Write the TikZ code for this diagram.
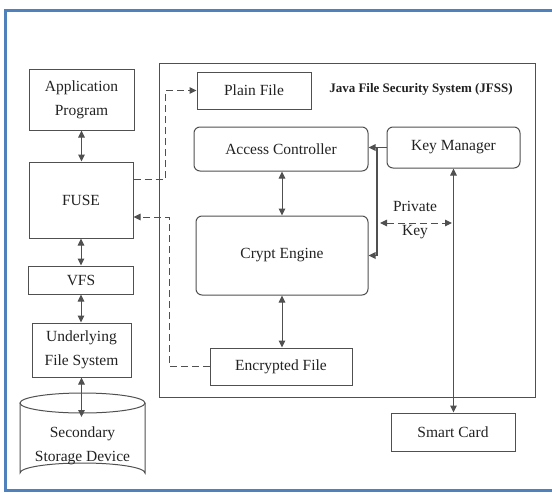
\documentclass[tikz,border=0pt]{standalone}
\usepackage{fontspec}
\setmainfont{Liberation Serif}
\usetikzlibrary{arrows.meta}
\definecolor{frameblue}{HTML}{4F81BD}
\definecolor{ln}{HTML}{505050}
\definecolor{tx}{HTML}{222222}
\begin{document}
\begin{tikzpicture}[x=1pt,y=-1pt,
  font=\fontsize{15.5}{24}\selectfont, text=tx,
  box/.style={draw=ln,line width=1pt,rectangle,inner sep=0pt,align=center},
  rbox/.style={box,rounded corners=6pt},
  conn/.style={draw=ln,line width=1pt},
  arrone/.style={-{Triangle[length=7pt,width=6.5pt]}},
  arrtwo/.style={{Triangle[length=7pt,width=6.5pt]}-{Triangle[length=7pt,width=6.5pt]}},
  dashline/.style={dash pattern=on 7pt off 4pt}]
\useasboundingbox (0,0) rectangle (552,493);
\begin{scope}
\clip (0,0) rectangle (552,493);
\draw[frameblue,line width=3pt] (5.5,10.5) rectangle (580,490.5);
\end{scope}
% left column
\node[box,minimum width=105pt,minimum height=61pt] (app) at (81.5,99.5) {Application\\Program};
\node[box,minimum width=104pt,minimum height=76pt] (fuse) at (81,200) {FUSE};
\node[box,minimum width=105pt,minimum height=28pt] (vfs) at (81,280) {VFS};
\node[box,minimum width=99pt,minimum height=54pt] (ufs) at (81.5,350) {Underlying\\File System};
% cylinder
\draw[ln,line width=1pt] (20,403) -- (20,473) arc[start angle=180,end angle=360,x radius=62.5,y radius=10] -- (145,403);
\draw[ln,line width=1pt] (82.5,403) ellipse[x radius=62.5,y radius=10];
\node[align=center] (ssd) at (82.5,446) {Secondary\\Storage Device};
\coordinate (cyltop) at (81.5,417);
% JFSS frame
\node[box,minimum width=376pt,minimum height=334pt] (jfss) at (347,230) {};
\node[font=\fontsize{13}{15}\bfseries] (title) at (421,89) {Java File Security System (JFSS)};
\node[box,minimum width=114pt,minimum height=37pt] (plain) at (254,90.5) {Plain File};
\node[rbox,minimum width=174pt,minimum height=44pt] (ac) at (281,149) {Access Controller};
\node[rbox,minimum width=172pt,minimum height=79pt] (ce) at (282,255.5) {Crypt Engine};
\node[rbox,minimum width=133pt,minimum height=41pt] (km) at (453.5,147.5) {Key Manager};
\node[box,minimum width=142pt,minimum height=37pt] (enc) at (281,366.5) {Encrypted File};
\node[box,minimum width=124pt,minimum height=38pt] (sc) at (453,432) {Smart Card};
\node[align=center] (pk) at (415,220) {Private\\Key};
% connectors left column
\draw[conn,arrtwo] (app.south) -- (app.south |- fuse.north);
\draw[conn,arrtwo] (fuse.south) -- (fuse.south |- vfs.north);
\draw[conn,arrtwo] (vfs.south) -- (vfs.south |- ufs.north);
\draw[conn,arrtwo] (ufs.south) -- (cyltop);
% dashed connectors
\draw[conn,dashline,arrone] ([yshift=21pt]fuse.east) -- ++(32,0) |- (plain.west);
\draw[conn,dashline,arrone] (enc.west) -- ++(-40,0) |- ([yshift=-17pt]fuse.east);
% JFSS inner connectors
\draw[conn,arrtwo] (ac.south -| ce.north) -- (ce.north);
\draw[conn,arrtwo] (ce.south) -- (ce.south |- enc.north);
\coordinate (j) at (377,147.5);
\draw[ln,line width=1.6pt,arrone] (km.west) -- (km.west -| ac.east);
\draw[ln,line width=1.6pt,arrone] (j) |- (ce.east);
\coordinate (pkl) at (380,223);
\coordinate (pkr) at (452,223);
\draw[conn,dashline,arrtwo] (pkl) -- (pkr);
\draw[conn,arrtwo] (km.south) -- (km.south |- sc.north);
\end{tikzpicture}
\end{document}
